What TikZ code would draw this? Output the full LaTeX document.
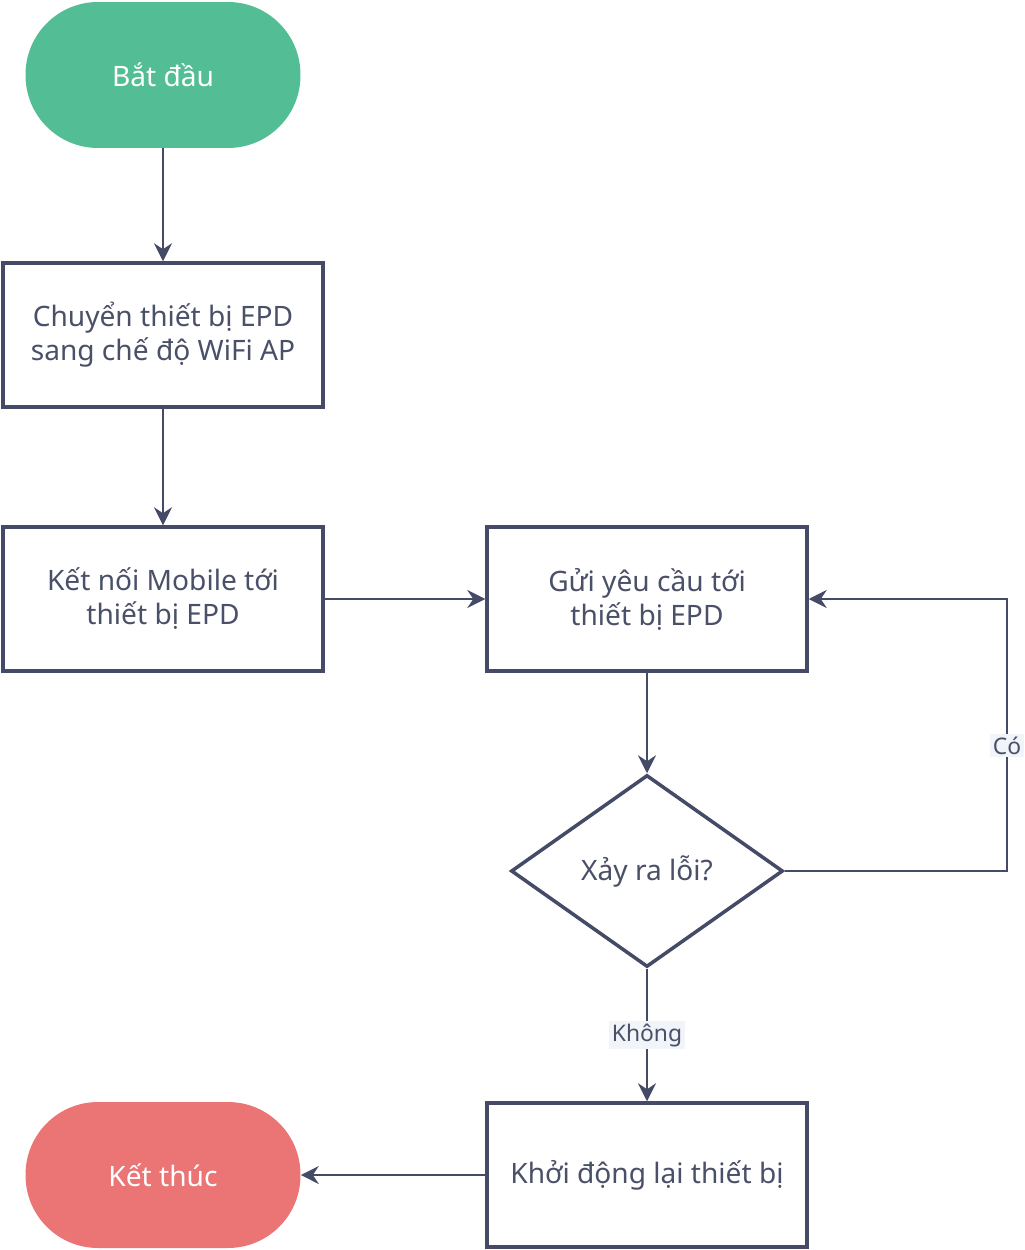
\documentclass[tikz,border=0pt]{standalone}
\usepackage{fontspec}
\setmainfont{Noto Sans}
\usetikzlibrary{arrows.meta,shapes.geometric}

\definecolor{linecol}{HTML}{454B66}
\definecolor{textcol}{HTML}{4A5068}
\definecolor{startcol}{HTML}{53BE95}
\definecolor{endcol}{HTML}{EB7474}
\definecolor{labelcol}{HTML}{F1F4F9}

\begin{document}
\begin{tikzpicture}[x=0.02cm, y=-0.02cm,
  every block/.style={draw=linecol, line width=2pt, fill=white, text=textcol,
    minimum width=6.4cm, minimum height=2.88cm, align=center,
    font=\fontsize{16}{19.3}\selectfont},
  terminal/.style={rounded corners=1.45cm, minimum width=5.5cm, minimum height=2.92cm,
    text=white, font=\fontsize{16}{19.3}\selectfont},
  decision/.style={diamond, draw=linecol, line width=2pt, fill=white, text=textcol,
    minimum width=5.44cm, minimum height=3.84cm, inner sep=0pt, aspect=1.42,
    font=\fontsize{16}{19.3}\selectfont},
  flow/.style={draw=linecol, line width=1.1pt,
    -{Stealth[length=0.36cm,width=0.36cm,inset=0.12cm]}},
  answer/.style={fill=labelcol, text=textcol, inner sep=1.5pt,
    font=\fontsize{13}{15}\selectfont}]

\useasboundingbox (0,0) rectangle (1024,1250);

% Definição dos blocos

\node [terminal, fill=startcol] (start) at (163,75) {Bắt đầu};
\node [every block/.try] (convert) at (163,335) {Chuyển thiết bị EPD\\sang chế độ WiFi AP};
\node [every block/.try] (connect) at (163,599) {Kết nối Mobile tới\\thiết bị EPD};
\node [every block/.try] (request) at (647,599) {Gửi yêu cầu tới\\thiết bị EPD};
\node [decision] (error) at (647,871) {Xảy ra lỗi?};
\node [every block/.try] (restart) at (647,1175) {Khởi động lại thiết bị};
\node [terminal, fill=endcol] (finish) at (163,1175) {Kết thúc};

\coordinate (loop-1) at (1007,871);
\coordinate (loop-2) at (1007,599);

% Definição das setas

\foreach \a/\b in {start/convert, convert/connect, connect/request, request/error, restart/finish}
  \draw [flow] (\a) -- (\b);

\draw [flow] (error) -- (restart)
  node [answer, midway] {Không};

\draw [flow] (error.east) -- (loop-1) -- (loop-2)
  node [answer, pos=0.46] {Có} -- (request.east);

\end{tikzpicture}
\end{document}
